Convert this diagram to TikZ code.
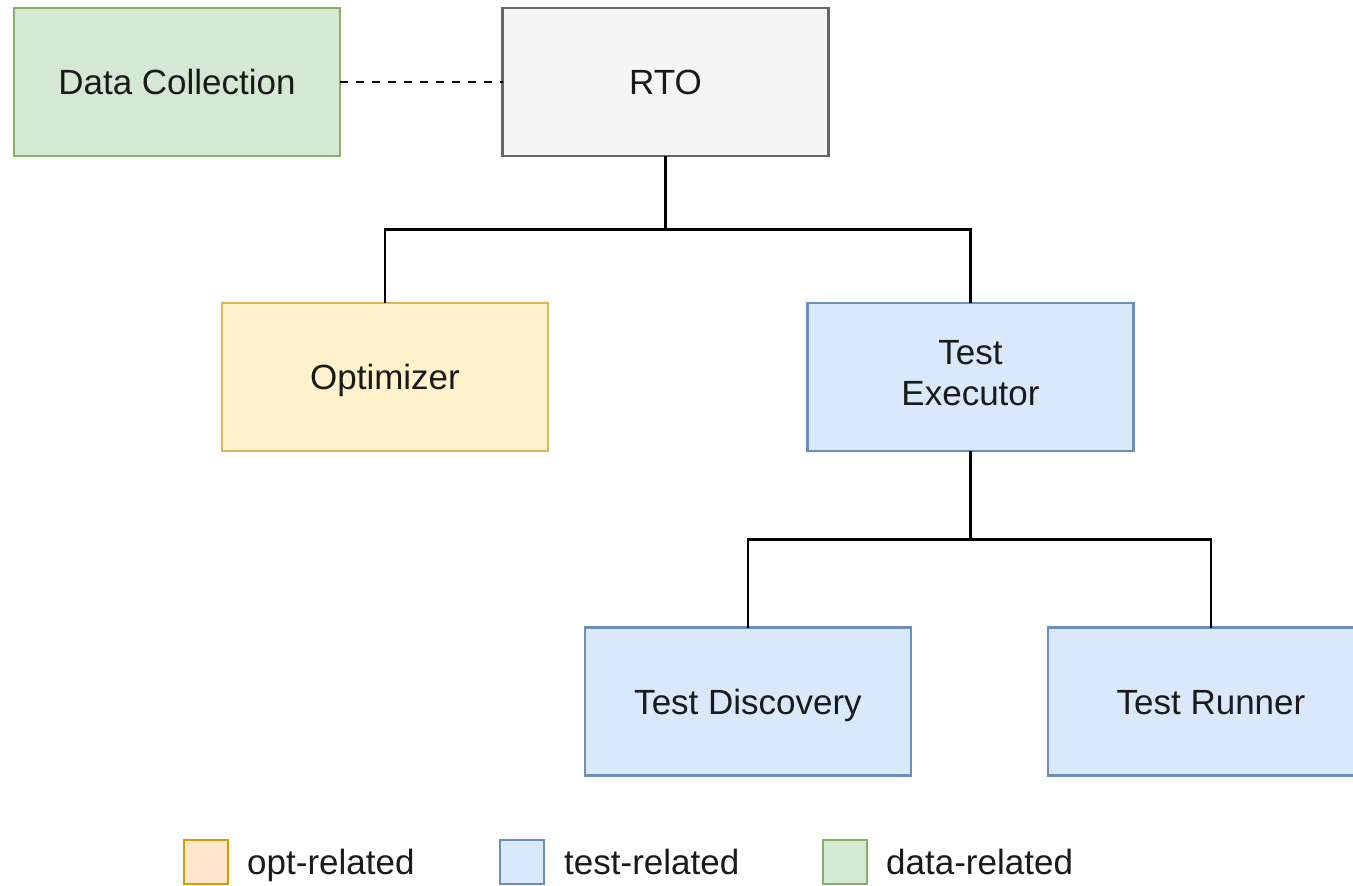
\documentclass[tikz,border=0pt]{standalone}
\usepackage{fontspec}
\setmainfont{Liberation Sans}
\usetikzlibrary{calc}
\definecolor{greenfill}{HTML}{D5E8D4}
\definecolor{greenline}{HTML}{82B366}
\definecolor{grayfill}{HTML}{F5F5F5}
\definecolor{grayline}{HTML}{666666}
\definecolor{yellowfill}{HTML}{FFF2CC}
\definecolor{yellowline}{HTML}{D6B656}
\definecolor{bluefill}{HTML}{DAE8FC}
\definecolor{blueline}{HTML}{6C8EBF}
\definecolor{orangefill}{HTML}{FFE6CC}
\definecolor{orangeline}{HTML}{D79B00}
\definecolor{txt}{HTML}{1A1A1A}
% strut (33pt above, 8pt below the baseline) so labels centre on their caps
\newcommand{\capstrut}{\rule[-8pt]{0pt}{41pt}}
\tikzset{
  box/.style={draw, line width=2.7pt, inner sep=0pt, outer sep=0pt,
    minimum width=326pt, minimum height=148pt, align=center,
    text=txt, font=\fontsize{35}{41}\selectfont,
    execute at begin node={\capstrut}, execute at end node={\capstrut}},
  greenbox/.style={box, fill=greenfill, draw=greenline},
  graybox/.style={box, fill=grayfill, draw=grayline},
  yellowbox/.style={box, fill=yellowfill, draw=yellowline},
  bluebox/.style={box, fill=bluefill, draw=blueline},
  link/.style={line width=2.7pt, draw=black},
  swatch/.style={draw, line width=2.7pt, inner sep=0pt, outer sep=0pt,
    minimum width=44pt, minimum height=44pt},
  legendtext/.style={anchor=base west, inner sep=0pt, text=txt,
    font=\fontsize{35}{41}\selectfont},
}
\begin{document}
\begin{tikzpicture}[x=1pt, y=-1pt]
\useasboundingbox (0,0) rectangle (1353,886);

% components
\node[greenbox]  (dc)  at (177,82)   {Data Collection};
\node[graybox]   (rto) at (665.5,82) {RTO};
\node[yellowbox] (opt) at (385,377)  {Optimizer};
\node[bluebox]   (te)  at (970.5,377) {Test\\Executor};
\node[bluebox]   (td)  at (748,701.5) {Test Discovery};
\node[bluebox]   (tr)  at (1211,701.5) {Test Runner};

% hierarchy connectors
\coordinate (j1) at ($(rto.south)!0.5!(opt.north)$);
\coordinate (j2) at ($(te.south)!0.5!(td.north)$);
\draw[link] (rto.south) -- (rto.south |- j1);
\draw[link] (opt.north) |- (j1) -| (te.north);
\draw[link] (te.south) -- (te.south |- j2);
\draw[link] (td.north) |- (j2) -| (tr.north);

% data link
\draw[line width=2.7pt, dash pattern=on 8pt off 8pt] (dc.east) -- (rto.west);

% legend
\node[swatch, fill=orangefill, draw=orangeline] (l1) at (206,862) {};
\node[legendtext] (l1t) at (247,874) {opt-related};
\node[swatch, fill=bluefill, draw=blueline] (l2) at (522,862) {};
\node[legendtext] (l2t) at (564,874) {test-related};
\node[swatch, fill=greenfill, draw=greenline] (l3) at (845,862) {};
\node[legendtext] (l3t) at (886,874) {data-related};
\end{tikzpicture}
\end{document}
